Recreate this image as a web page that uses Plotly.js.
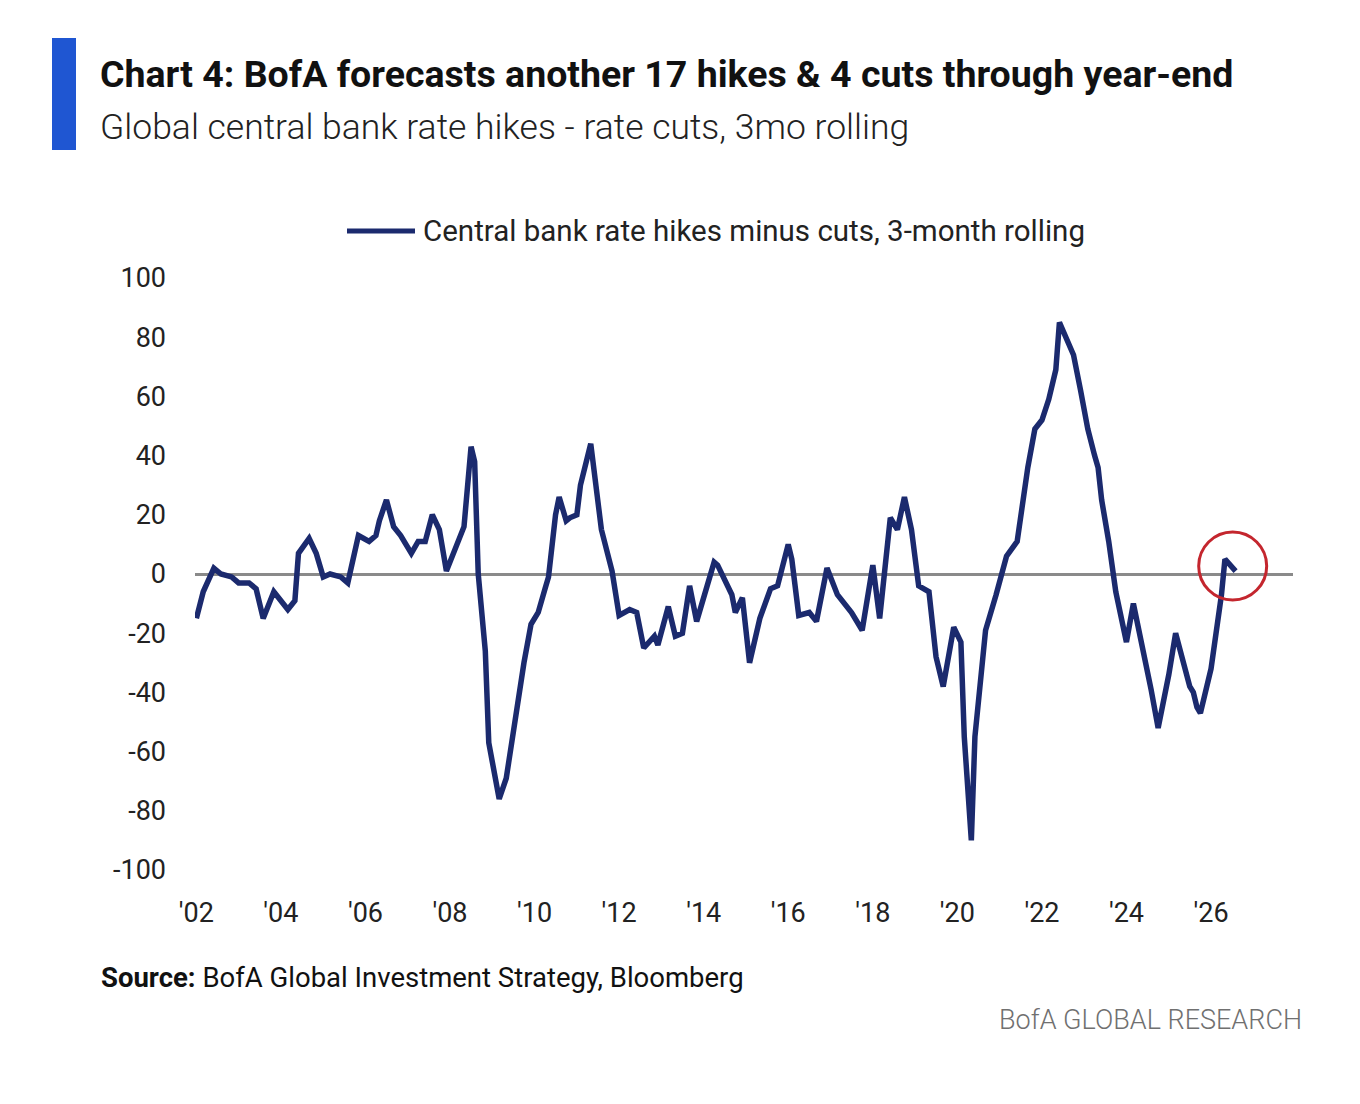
<!DOCTYPE html>
<html>
<head>
<meta charset="utf-8">
<script src="https://cdn.plot.ly/plotly-3.0.1.min.js"></script>
<style>html,body{margin:0;padding:0;background:#fff;}#chart{width:1360px;height:1104px;}</style>
</head>
<body>
<div id="chart"></div>
<script>
const dates = [
 "2002-01","2002-03","2002-06","2002-08","2002-11","2003-01","2003-04","2003-06","2003-08","2003-11",
 "2004-03","2004-05","2004-06","2004-09","2004-11","2005-01","2005-03","2005-06","2005-08","2005-10",
 "2005-11","2006-02","2006-04","2006-05","2006-07","2006-09","2006-11","2007-01","2007-02","2007-04",
 "2007-06","2007-08","2007-10","2007-12","2008-02","2008-05","2008-07","2008-08","2008-09","2008-11",
 "2008-12","2009-02","2009-03","2009-05","2009-08","2009-10","2009-12","2010-02","2010-04","2010-05",
 "2010-07","2010-08","2010-10","2010-11","2011-01","2011-02","2011-05","2011-06","2011-08","2011-11",
 "2012-01","2012-04","2012-06","2012-08","2012-11","2012-12","2013-03","2013-05","2013-07","2013-09",
 "2013-11","2014-04","2014-05","2014-09","2014-10","2014-12","2015-02","2015-05","2015-08","2015-10",
 "2016-01","2016-02","2016-04","2016-07","2016-09","2016-12","2017-03","2017-07","2017-10","2018-01",
 "2018-03","2018-06","2018-08","2018-10","2018-12","2019-02","2019-05","2019-07","2019-09","2019-12",
 "2020-02","2020-03","2020-05","2020-06","2020-09","2020-12","2021-01","2021-03","2021-06","2021-08",
 "2021-09","2021-11","2022-01","2022-03","2022-05","2022-06","2022-08","2022-09","2022-10","2022-12",
 "2023-02","2023-04","2023-05","2023-06","2023-08","2023-10","2024-01","2024-03","2024-05","2024-08",
 "2024-10","2025-01","2025-03","2025-07","2025-08","2025-09","2025-10","2026-01","2026-04","2026-05",
 "2026-08"
];
const hikesMinusCuts = [
 -15,-6,2,0,-1,-3,-3,-5,-15,-6,
 -12,-9,7,12,7,-1,0,-1,-3,8,
 13,11,13,18,25,16,13,9,7,11,
 11,20,15,1,7,16,43,38,0,-26,
 -57,-72,-76,-69,-44,-30,-17,-13,-5,-1,
 20,26,18,19,20,30,44,34,15,1,
 -14,-12,-13,-25,-21,-24,-11,-21,-20,-4,
 -16,4,3,-7,-13,-8,-30,-15,-5,-4,
 10,5,-14,-13,-16,2,-7,-13,-19,3,
 -15,19,15,26,15,-4,-6,-28,-38,-18,
 -23,-55,-90,-55,-19,-7,-3,6,11,28,
 36,49,52,59,69,85,80,77,74,62,
 49,40,36,25,11,-6,-23,-10,-21,-39,
 -52,-34,-20,-38,-40,-45,-47,-32,-7,5,
 1
];
const yTicks = [-100,-80,-60,-40,-20,0,20,40,60,80,100];
const seriesName = "Central bank rate hikes minus cuts, 3-month rolling";
const highlightDate = "2026-07-07";
const highlightValue = 2.7;

const FONT = "Roboto, 'Open Sans', sans-serif";
// plot area in pixels: left 195, right 1293, top 278, bottom 870
const L=195, R=1293, T=278, B=870;
const px = x => (x-L)/(R-L);
const py = y => (B-y)/(B-T);

const trace = {
  x: dates.map(d => d + "-01"),
  y: hikesMinusCuts,
  type: "scatter",
  mode: "lines",
  name: seriesName,
  line: {color: "#1b2a6e", width: 5.5, shape: "linear"},
  showlegend: false,
  hoverinfo: "skip"
};

const layout = {
  width: 1360, height: 1104,
  margin: {l: L, r: 1360-R, t: T, b: 1104-B, pad: 0},
  paper_bgcolor: "#ffffff", plot_bgcolor: "#ffffff",
  font: {family: FONT, color: "#222222"},
  xaxis: {
    type: "date",
    range: ["2001-12-20", "2027-12-10"],
    tickvals: ["2002-01-01","2004-01-01","2006-01-01","2008-01-01","2010-01-01","2012-01-01","2014-01-01","2016-01-01","2018-01-01","2020-01-01","2022-01-01","2024-01-01","2026-01-01"],
    ticktext: ["'02","'04","'06","'08","'10","'12","'14","'16","'18","'20","'22","'24","'26"],
    showgrid: false, zeroline: false, showline: false, ticks: "",
    tickfont: {family: FONT, size: 27, color: "#222222"},
    ticklabelstandoff: 24,
    fixedrange: true
  },
  yaxis: {
    range: [-100, 100],
    tickvals: yTicks,
    ticktext: yTicks.map(v => String(v)),
    showgrid: false, showline: false, ticks: "",
    zeroline: true, zerolinecolor: "#8a8a8a", zerolinewidth: 3,
    tickfont: {family: FONT, size: 27, color: "#222222"},
    ticklabelstandoff: 28,
    fixedrange: true
  },
  shapes: [
    {type: "rect", xref: "paper", yref: "paper", x0: px(52), x1: px(76), y0: py(150), y1: py(38),
     fillcolor: "#1f56d2", line: {width: 0}},
    {type: "line", xref: "paper", yref: "paper", x0: px(347), x1: px(415), y0: py(231), y1: py(231),
     line: {color: "#1b2a6e", width: 5}},
    {type: "circle", xref: "x", yref: "y", xsizemode: "pixel", ysizemode: "pixel",
     xanchor: highlightDate, yanchor: highlightValue, x0: -34, x1: 34, y0: -34, y1: 34,
     line: {color: "#c4262e", width: 3}}
  ],
  annotations: [
    {xref: "paper", yref: "paper", x: px(98), y: py(74), xanchor: "left", yanchor: "middle", showarrow: false,
     text: "<b>Chart 4: BofA forecasts another 17 hikes & 4 cuts through year-end</b>",
     font: {family: FONT, size: 37.5, color: "#111111"}},
    {xref: "paper", yref: "paper", x: px(98), y: py(127), xanchor: "left", yanchor: "middle", showarrow: false,
     text: "Global central bank rate hikes - rate cuts, 3mo rolling",
     font: {family: FONT, size: 35.5, color: "#222222", weight: 300}},
    {xref: "paper", yref: "paper", x: px(421), y: py(231), xanchor: "left", yanchor: "middle", showarrow: false,
     text: seriesName,
     font: {family: FONT, size: 29.5, color: "#222222"}},
    {xref: "paper", yref: "paper", x: px(99), y: py(977), xanchor: "left", yanchor: "middle", showarrow: false,
     text: "<b>Source:</b> BofA Global Investment Strategy, Bloomberg",
     font: {family: FONT, size: 27.5, color: "#111111"}},
    {xref: "paper", yref: "paper", x: px(1304), y: py(1020), xanchor: "right", yanchor: "middle", showarrow: false,
     text: "BofA GLOBAL RESEARCH",
     font: {family: FONT, size: 27, color: "#707070", weight: 300}}
  ]
};

Plotly.newPlot("chart", [trace], layout, {displayModeBar: false, staticPlot: true});
</script>
</body>
</html>
